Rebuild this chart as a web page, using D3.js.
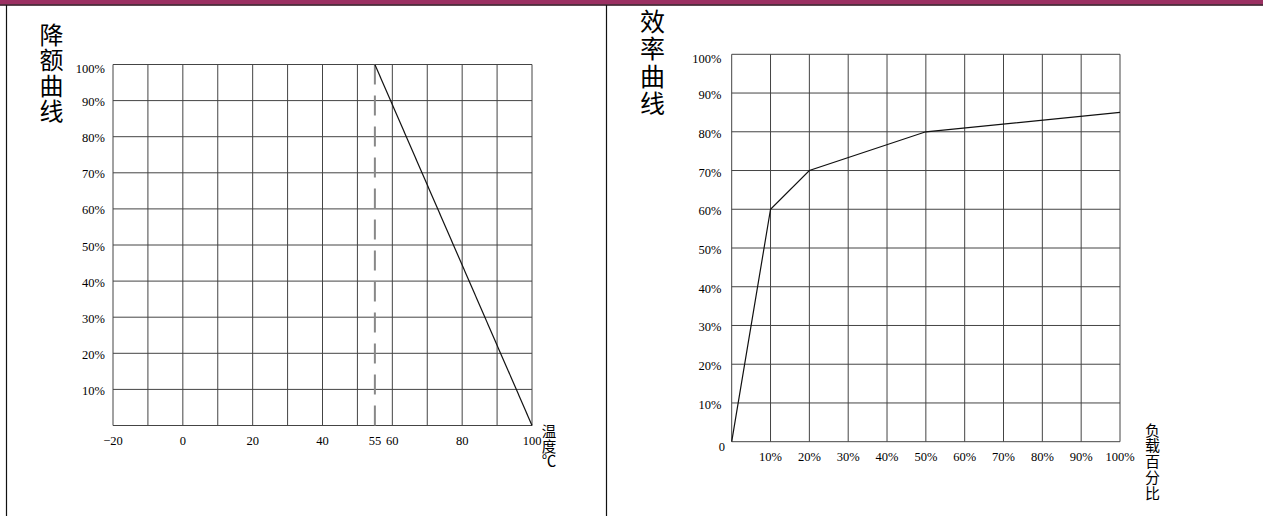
<!DOCTYPE html>
<html>
<head>
<meta charset="utf-8">
<script src="https://cdn.jsdelivr.net/npm/d3@7"></script>
<style>
    body { margin: 0; background: #fff; }
    .tick-label { font-family: "Liberation Serif", "DejaVu Serif", serif; font-size: 12.5px; fill: #000; }
    .cjk { font-family: "Noto Sans CJK SC", sans-serif; fill: #000; writing-mode: vertical-rl; }
</style>
</head>
<body>
<div id="chart"></div>
<script>
// derating curve (left)
var derateTemp = [55, 100];
var derateLoad = [100, 0];
var derateMarker = 55;
var tempTicks = [-20, 0, 20, 40, 55, 60, 80, 100];
var tempGrid = d3.range(-20, 101, 10);
var derateYTicks = [10, 20, 30, 40, 50, 60, 70, 80, 90, 100];

// efficiency curve (right)
var effLoad = [0, 10, 20, 50, 100];
var effValue = [0, 60, 70, 80, 85];
var loadTicks = [10, 20, 30, 40, 50, 60, 70, 80, 90, 100];
var effYTicks = [0, 10, 20, 30, 40, 50, 60, 70, 80, 90, 100];
var pctGrid = d3.range(0, 101, 10);

var width = 1263, height = 516;

var svg = d3.select('#chart')
    .append('svg')
    .attr('width', width)
    .attr('height', height);

// header band and frame
svg.append('rect').attr('x', 0).attr('y', 0).attr('width', width).attr('height', 4.5).attr('fill', '#9b3062');
svg.append('line').attr('x1', 0).attr('x2', width).attr('y1', 5).attr('y2', 5).attr('stroke', '#2a0a18').attr('stroke-width', 1.5);
svg.append('line').attr('x1', 6.5).attr('x2', 6.5).attr('y1', 5).attr('y2', height).attr('stroke', '#111').attr('stroke-width', 1.2);
svg.append('line').attr('x1', 606.5).attr('x2', 606.5).attr('y1', 5).attr('y2', height).attr('stroke', '#111').attr('stroke-width', 1.2);

// vertical CJK text, one text element in vertical writing mode
function verticalText(str, x, top, pitch, size) {
    svg.append('text')
        .attr('class', 'cjk')
        .attr('x', x)
        .attr('y', top)
        .style('font-size', size + 'px')
        .style('letter-spacing', (pitch - size) + 'px')
        .text(str);
}

function drawGrid(xScale, yScale, xs, ys) {
    var g = svg.append('g');
    g.selectAll('line.v')
        .data(xs)
        .enter().append('line')
        .attr('class', 'v')
        .attr('x1', function(d) { return xScale(d); })
        .attr('x2', function(d) { return xScale(d); })
        .attr('y1', yScale.range()[0])
        .attr('y2', yScale.range()[1])
        .attr('stroke', '#444')
        .attr('stroke-width', 1);
    g.selectAll('line.h')
        .data(ys)
        .enter().append('line')
        .attr('class', 'h')
        .attr('x1', xScale.range()[0])
        .attr('x2', xScale.range()[1])
        .attr('y1', function(d) { return yScale(d); })
        .attr('y2', function(d) { return yScale(d); })
        .attr('stroke', '#444')
        .attr('stroke-width', 1);
}

/* ---------- left: derating ---------- */
var xL = d3.scaleLinear().domain([-20, 100]).range([113, 532]);
var yL = d3.scaleLinear().domain([0, 100]).range([425.5, 64.5]);

drawGrid(xL, yL, tempGrid, pctGrid);

svg.append('line')
    .attr('x1', xL(derateMarker)).attr('x2', xL(derateMarker))
    .attr('y1', yL(100)).attr('y2', yL(0))
    .attr('stroke', '#888')
    .attr('stroke-width', 2)
    .attr('stroke-dasharray', '20,11');

var derateLine = d3.line()
    .x(function(d) { return xL(d[0]); })
    .y(function(d) { return yL(d[1]); });

svg.append('path')
    .datum(d3.zip(derateTemp, derateLoad))
    .attr('d', derateLine)
    .attr('fill', 'none')
    .attr('stroke', '#111')
    .attr('stroke-width', 1.2);

svg.append('g').selectAll('text')
    .data(tempTicks)
    .enter().append('text')
    .attr('class', 'tick-label')
    .attr('x', function(d) { return xL(d); })
    .attr('y', 444.5)
    .attr('text-anchor', 'middle')
    .text(function(d) { return d < 0 ? '\u2212' + Math.abs(d) : d; });

svg.append('g').selectAll('text')
    .data(derateYTicks)
    .enter().append('text')
    .attr('class', 'tick-label')
    .attr('x', 105)
    .attr('y', function(d) { return yL(d) + (d == 100 ? 4.5 : 1.5); })
    .attr('text-anchor', 'end')
    .attr('dominant-baseline', 'central')
    .text(function(d) { return d + '%'; });

verticalText('降额曲线', 51.5, 23, 25.3, 24);
verticalText('温度℃', 549, 424, 14.8, 14.5);

/* ---------- right: efficiency ---------- */
var xR = d3.scaleLinear().domain([0, 100]).range([731.7, 1120]);
var yR = d3.scaleLinear().domain([0, 100]).range([441.7, 54.3]);

drawGrid(xR, yR, pctGrid, pctGrid);

var effLine = d3.line()
    .x(function(d) { return xR(d[0]); })
    .y(function(d) { return yR(d[1]); });

svg.append('path')
    .datum(d3.zip(effLoad, effValue))
    .attr('d', effLine)
    .attr('fill', 'none')
    .attr('stroke', '#111')
    .attr('stroke-width', 1.2);

svg.append('g').selectAll('text')
    .data(loadTicks)
    .enter().append('text')
    .attr('class', 'tick-label')
    .attr('x', function(d) { return xR(d); })
    .attr('y', 457)
    .attr('text-anchor', 'middle')
    .attr('dominant-baseline', 'central')
    .text(function(d) { return d + '%'; });

svg.append('g').selectAll('text')
    .data(effYTicks)
    .enter().append('text')
    .attr('class', 'tick-label')
    .attr('x', function(d) { return d == 0 ? 725 : 721.5; })
    .attr('y', function(d) { return yR(d) + (d == 100 ? 4.5 : d == 0 ? 5 : 2); })
    .attr('text-anchor', 'end')
    .attr('dominant-baseline', 'central')
    .text(function(d) { return d == 0 ? '0' : d + '%'; });

verticalText('效率曲线', 652.5, 8.5, 27.5, 25);
verticalText('负载百分比', 1152.5, 422.5, 15.8, 15);
</script>
</body>
</html>
